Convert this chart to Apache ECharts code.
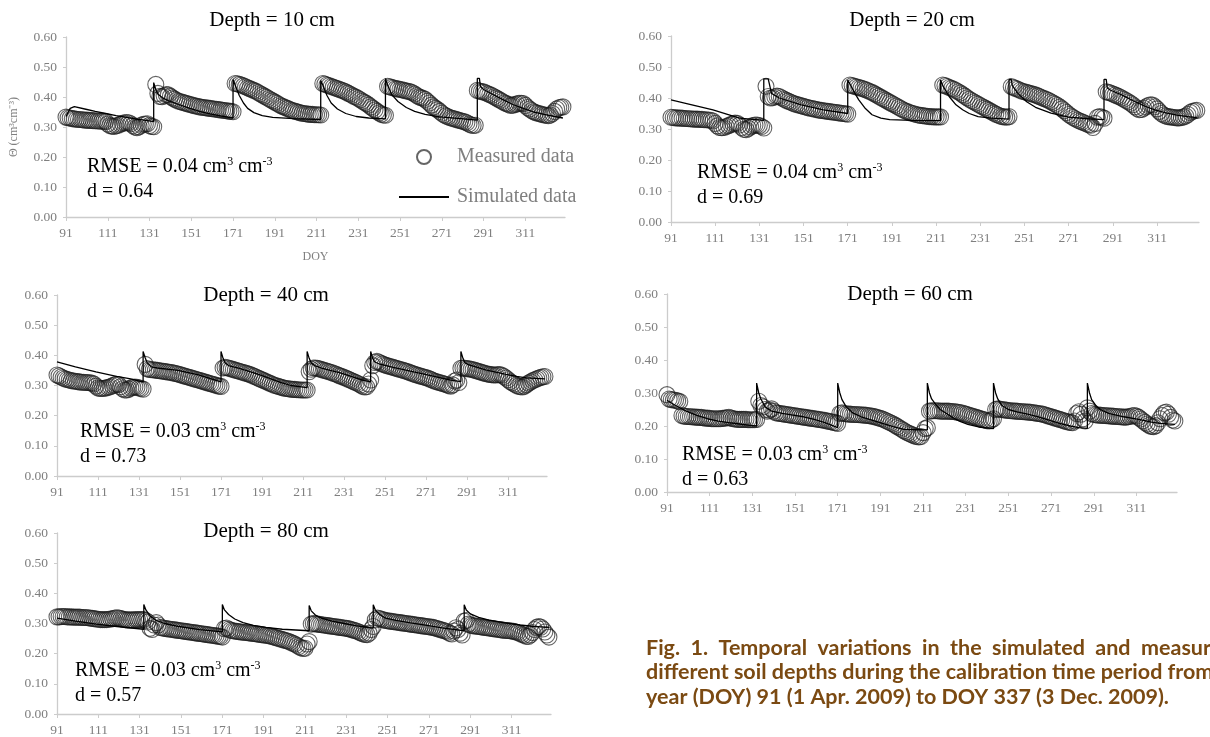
<!DOCTYPE html>
<html>
<head>
<meta charset="utf-8">
<script src="https://cdn.jsdelivr.net/npm/echarts@6/dist/echarts.min.js"></script>
<style>
html, body { margin: 0; padding: 0; background: #fff; }
#chart { width: 1210px; height: 737px; }
</style>
</head>
<body>
<div id="chart"></div>
<script>
// day of year of the first measured value, one value per day after it
var firstDay = 91;
var tickDays = [91, 111, 131, 151, 171, 191, 211, 231, 251, 271, 291, 311];
var titles = ["Depth = 10 cm", "Depth = 20 cm", "Depth = 40 cm", "Depth = 60 cm", "Depth = 80 cm"];
var rmse = ["0.04", "0.04", "0.03", "0.03", "0.03"];
var dIndex = ["0.64", "0.69", "0.73", "0.63", "0.57"];

// measured soil water content (cm3 cm-3), DOY 91..329
var m10 = [
  .333,.331,.330,.328,.327,.326,.325,.325,.324,.323,
  .323,.322,.322,.321,.321,.320,.320,.319,.319,.318,
  .310,.305,.303,.302,.304,.306,.309,.312,.314,.315,
  .314,.311,.305,.300,.298,.301,.306,.309,.310,.311,
  .305,.302,.301,.442,.412,.402,.401,.404,.408,.407,
  .402,.397,.393,.389,.386,.384,.382,.380,.378,.376,
  .374,.372,.370,.369,.367,.366,.365,.364,.363,.362,
  .361,.360,.359,.358,.357,.356,.355,.354,.353,.352,
  .351,.445,.444,.442,.440,.437,.434,.431,.428,.425,
  .422,.419,.415,.411,.407,.403,.399,.395,.391,.387,
  .383,.379,.375,.371,.368,.365,.362,.359,.356,.354,
  .352,.350,.348,.346,.345,.344,.343,.342,.342,.341,
  .341,.341,.340,.445,.443,.440,.438,.435,.433,.430,
  .428,.425,.423,.420,.417,.413,.410,.406,.402,.399,
  .395,.391,.386,.382,.378,.373,.367,.362,.357,.352,
  .347,.343,.340,.339,.436,.434,.432,.430,.428,.427,
  .425,.424,.422,.420,.419,.417,.414,.410,.405,.401,
  .398,.396,.392,.386,.380,.373,.367,.362,.358,.352,
  .346,.341,.337,.334,.331,.329,.327,.325,.323,.321,
  .319,.317,.314,.310,.307,.305,.306,.422,.420,.418,
  .417,.414,.411,.408,.405,.401,.397,.393,.389,.385,
  .381,.378,.375,.372,.373,.375,.377,.379,.379,.378,
  .372,.365,.360,.355,.351,.348,.346,.344,.342,.340,
  .339,.338,.340,.345,.352,.360,.364,.366,.367
];
var m20 = [
  .338,.337,.336,.336,.335,.335,.334,.334,.333,.333,
  .332,.332,.332,.331,.331,.330,.330,.329,.328,.326,
  .318,.310,.305,.304,.305,.308,.311,.314,.317,.319,
  .318,.313,.305,.299,.298,.302,.307,.311,.313,.313,
  .311,.308,.303,.438,.405,.400,.401,.404,.406,.405,
  .401,.397,.393,.390,.387,.384,.381,.379,.377,.375,
  .373,.371,.369,.367,.366,.364,.363,.361,.360,.359,
  .358,.357,.356,.355,.354,.353,.352,.351,.350,.349,
  .348,.442,.440,.438,.436,.434,.432,.430,.427,.424,
  .421,.418,.414,.410,.406,.402,.398,.394,.390,.386,
  .382,.378,.374,.370,.366,.362,.359,.356,.353,.351,
  .349,.347,.345,.344,.343,.342,.341,.340,.340,.339,
  .339,.339,.339,.442,.440,.437,.434,.431,.428,.424,
  .420,.416,.411,.406,.401,.396,.392,.388,.384,.380,
  .376,.372,.368,.364,.360,.356,.352,.348,.345,.342,
  .340,.339,.338,.340,.437,.434,.431,.428,.425,.422,
  .420,.418,.416,.414,.412,.410,.407,.404,.401,.398,
  .395,.392,.388,.384,.380,.376,.371,.365,.359,.353,
  .347,.342,.337,.333,.329,.326,.323,.320,.317,.314,
  .312,.305,.318,.338,.340,.338,.335,.420,.418,.416,
  .413,.410,.407,.404,.400,.396,.392,.388,.383,.378,
  .372,.366,.362,.363,.367,.372,.376,.378,.377,.372,
  .365,.357,.350,.345,.342,.340,.339,.338,.337,.336,
  .336,.337,.339,.342,.347,.353,.357,.359,.360
];
var m40 = [
  .335,.332,.328,.325,.322,.320,.318,.316,.315,.314,
  .313,.312,.311,.311,.310,.310,.309,.308,.305,.298,
  .292,.290,.290,.291,.292,.294,.296,.299,.302,.304,
  .303,.296,.289,.285,.285,.288,.292,.294,.295,.294,
  .292,.290,.288,.370,.356,.353,.352,.352,.351,.350,
  .349,.348,.347,.346,.345,.344,.343,.341,.340,.338,
  .336,.334,.332,.330,.328,.326,.324,.322,.320,.318,
  .316,.314,.312,.310,.308,.306,.304,.302,.300,.298,
  .297,.358,.360,.359,.357,.355,.353,.351,.349,.347,
  .345,.343,.341,.339,.337,.334,.331,.328,.325,.322,
  .319,.316,.313,.310,.307,.304,.301,.299,.297,.295,
  .293,.291,.290,.289,.288,.287,.287,.286,.286,.285,
  .285,.285,.285,.346,.354,.358,.358,.357,.355,.353,
  .351,.349,.347,.345,.343,.340,.338,.335,.332,.330,
  .327,.324,.321,.318,.315,.312,.309,.306,.302,.298,
  .295,.296,.305,.318,.366,.376,.380,.377,.374,.371,
  .368,.366,.364,.362,.360,.358,.356,.354,.352,.350,
  .348,.346,.343,.341,.338,.336,.334,.332,.330,.328,
  .326,.324,.321,.318,.315,.313,.311,.309,.307,.305,
  .303,.300,.298,.302,.315,.318,.310,.357,.358,.357,
  .356,.355,.354,.352,.350,.348,.346,.344,.342,.340,
  .338,.337,.336,.335,.335,.336,.336,.334,.330,.325,
  .319,.313,.309,.305,.301,.298,.296,.295,.298,.303,
  .308,.312,.316,.319,.322,.325,.327,.329,.330
];
var m60 = [
  .295,.282,.280,.279,.278,.276,.274,.232,.230,.229,
  .229,.228,.228,.227,.227,.226,.226,.225,.224,.224,
  .223,.222,.222,.222,.222,.222,.223,.224,.225,.226,
  .224,.222,.221,.220,.220,.220,.220,.220,.219,.219,
  .219,.219,.220,.275,.262,.258,.250,.245,.248,.252,
  .245,.240,.239,.238,.237,.236,.235,.234,.233,.232,
  .231,.230,.229,.228,.227,.226,.225,.224,.223,.222,
  .221,.220,.219,.218,.217,.215,.214,.213,.211,.210,
  .208,.238,.240,.238,.237,.236,.236,.235,.235,.235,
  .234,.234,.233,.233,.232,.231,.230,.229,.227,.225,
  .223,.221,.218,.215,.212,.209,.206,.202,.198,.194,
  .190,.186,.182,.179,.176,.173,.170,.168,.167,.168,
  .180,.192,.195,.245,.246,.246,.246,.246,.245,.245,
  .245,.245,.245,.244,.244,.243,.242,.241,.240,.238,
  .236,.234,.232,.230,.228,.226,.224,.222,.220,.218,
  .216,.215,.218,.222,.250,.252,.251,.250,.249,.248,
  .247,.246,.246,.245,.245,.244,.244,.243,.243,.242,
  .242,.241,.240,.239,.238,.237,.236,.234,.232,.230,
  .228,.226,.224,.222,.220,.218,.216,.214,.212,.211,
  .210,.215,.238,.243,.236,.222,.215,.255,.245,.238,
  .235,.234,.233,.233,.232,.232,.231,.231,.230,.230,
  .229,.229,.228,.228,.227,.227,.228,.229,.231,.232,
  .230,.226,.221,.216,.211,.206,.202,.199,.198,.201,
  .210,.222,.232,.240,.242,.236,.226,.218,.215
];
var m80 = [
  .322,.322,.323,.323,.323,.322,.322,.322,.321,.321,
  .321,.321,.320,.320,.320,.319,.318,.317,.316,.315,
  .314,.313,.313,.313,.313,.314,.315,.316,.318,.319,
  .318,.316,.314,.313,.312,.312,.312,.312,.313,.313,
  .313,.313,.313,.310,.305,.284,.280,.295,.303,.295,
  .287,.285,.284,.283,.282,.281,.280,.279,.278,.277,
  .276,.275,.274,.273,.272,.271,.270,.269,.268,.267,
  .266,.265,.264,.263,.262,.261,.260,.259,.258,.257,
  .255,.283,.285,.281,.278,.276,.275,.274,.273,.272,
  .271,.270,.270,.269,.268,.267,.266,.265,.264,.263,
  .262,.261,.260,.259,.257,.255,.253,.251,.249,.247,
  .245,.243,.241,.238,.235,.232,.228,.224,.220,.217,
  .218,.232,.240,.298,.300,.299,.298,.297,.296,.295,
  .294,.293,.292,.291,.290,.289,.288,.287,.286,.285,
  .284,.283,.281,.279,.277,.275,.272,.269,.266,.264,
  .263,.268,.280,.290,.312,.318,.316,.314,.312,.310,
  .309,.308,.307,.306,.305,.304,.303,.302,.301,.300,
  .299,.298,.297,.296,.295,.294,.293,.292,.291,.290,
  .289,.288,.287,.285,.283,.281,.279,.277,.275,.272,
  .268,.265,.275,.286,.280,.268,.262,.308,.310,.298,
  .295,.293,.292,.291,.290,.289,.288,.287,.286,.285,
  .284,.283,.282,.281,.280,.279,.278,.277,.277,.276,
  .275,.274,.272,.270,.267,.264,.261,.258,.257,.262,
  .270,.280,.287,.290,.288,.282,.272,.262,.255
];

// simulated values read at the turning points of the model line: [DOY, value]
var sim10 = [[91,.335],[93,.362],[95,.368],[100,.360],[105,.352],[110,.345],[115,.338],[120,.332],[125,.326],[130,.321],[133,.318],
  [133,.448],[134,.425],[135,.410],[137,.398],[140,.388],[145,.375],[150,.363],[155,.352],[160,.344],[165,.337],[171,.330],
  [171,.458],[172,.440],[174,.405],[176,.380],[178,.362],[181,.348],[185,.338],[190,.332],[200,.328],[213,.325],
  [213,.455],[214,.440],[216,.405],[218,.380],[221,.360],[225,.345],[230,.335],[236,.330],[244,.327],
  [244,.462],[245,.440],[247,.408],[250,.385],[254,.365],[258,.352],[263,.342],[270,.334],[280,.328],[288,.323],
  [288,.462],[289,.462],[289.5,.435],[291,.425],[295,.410],[300,.392],[305,.375],[310,.362],[315,.350],[320,.342],[325,.335],[329,.330]];
var sim20 = [[91,.394],[100,.379],[110,.362],[122,.335],[133,.328],
  [133,.462],[135,.462],[136.5,.415],[140,.400],[150,.378],[160,.362],[171,.350],
  [171,.458],[172,.445],[174,.418],[176,.394],[179,.366],[182,.346],[186,.335],[190,.330],[200,.328],[213,.327],
  [213,.458],[214,.440],[217,.404],[220,.378],[223,.362],[226,.350],[230,.340],[236,.335],[244,.332],
  [244,.460],[245,.460],[245.5,.440],[248,.415],[252,.388],[256,.370],[263,.351],[271,.338],[280,.333],[287,.330],
  [287,.460],[288,.460],[288.5,.432],[290,.425],[295,.410],[300,.392],[305,.375],[310,.362],[315,.352],[320,.345],[325,.340],[329,.337]];
var sim40 = [[91,.378],[100,.362],[110,.345],[120,.330],[127,.322],[133,.311],
  [133,.413],[134,.392],[135,.375],[137,.362],[140,.358],[150,.350],[160,.335],[171,.312],
  [171,.413],[172,.390],[173,.375],[175,.365],[180,.357],[190,.335],[200,.310],[205,.300],[213,.293],
  [213,.413],[214,.390],[215,.375],[217,.365],[220,.358],[230,.340],[240,.318],[244,.312],
  [244,.413],[245,.390],[246,.378],[248,.372],[255,.360],[265,.345],[275,.330],[283,.318],[288,.313],
  [288,.413],[289,.390],[290,.375],[292,.368],[300,.352],[310,.337],[315,.330],[320,.325],[329,.322]];
var sim60 = [[91,.278],[95,.262],[100,.245],[105,.232],[110,.222],[115,.215],[120,.210],[125,.206],[130,.202],[133,.200],
  [133,.330],[134,.300],[135,.282],[137,.258],[140,.245],[145,.238],[150,.233],[155,.228],[160,.220],[165,.210],[171,.195],
  [171,.330],[172,.300],[173,.280],[175,.258],[178,.240],[182,.228],[187,.218],[192,.208],[197,.198],[202,.190],[213,.188],
  [213,.330],[214,.300],[215,.282],[217,.265],[219,.250],[222,.238],[225,.225],[228,.215],[232,.205],[237,.197],[244,.192],
  [244,.330],[245,.300],[246,.282],[248,.262],[251,.250],[255,.243],[260,.236],[265,.228],[270,.218],[275,.208],[280,.200],[284,.195],[288,.193],
  [288,.330],[289,.300],[290,.280],[292,.262],[294,.250],[298,.238],[305,.228],[312,.220],[318,.212],[322,.208],[329,.205]];
var sim80 = [[91,.318],[100,.308],[110,.298],[120,.290],[133,.281],
  [133,.363],[134,.345],[136,.325],[139,.310],[143,.300],[150,.290],[160,.280],[171,.272],
  [171,.363],[172,.345],[174,.330],[177,.315],[181,.303],[186,.294],[192,.287],[200,.281],[213,.276],
  [213,.360],[214,.342],[216,.328],[219,.318],[224,.308],[230,.300],[236,.292],[244,.285],
  [244,.362],[245,.345],[247,.330],[250,.318],[255,.310],[262,.302],[270,.294],[278,.285],[288,.276],
  [288,.362],[289,.345],[291,.332],[295,.320],[300,.311],[307,.303],[315,.295],[322,.290],[329,.287]];

var measured = [m10, m20, m40, m60, m80];
var simulated = [sim10, sim20, sim40, sim60, sim80];

// plot boxes (px) and where the texts of each panel sit
var boxes = [
  { left: 66, top: 37, width: 499, height: 180 },
  { left: 671, top: 36, width: 528, height: 186 },
  { left: 57, top: 295, width: 490, height: 181 },
  { left: 667, top: 294, width: 510, height: 198 },
  { left: 57, top: 533, width: 494, height: 183 }
];
var titlePos = [[272, 20], [912, 20], [266, 295], [910, 294], [266, 531]];
var statPos = [[87, 167], [697, 173], [80, 432], [682, 455], [75, 671]];

var serif = "Liberation Serif";
var axisGray = "#cccccc";
var labelGray = "#7f7f7f";

var grid = [], xAxis = [], yAxis = [], series = [], graphic = [];

for (var i = 0; i < 5; i++) {
  grid.push(boxes[i]);
  xAxis.push({
    type: "value", gridIndex: i, min: 91, max: 330,
    axisLine: { onZero: false, lineStyle: { color: axisGray, width: 1.3 } },
    axisTick: { show: true, customValues: tickDays, length: 4, lineStyle: { color: axisGray } },
    axisLabel: { customValues: tickDays, color: labelGray, fontFamily: serif, fontSize: 13.5, margin: 9 },
    splitLine: { show: false },
    name: i === 0 ? "DOY" : "",
    nameLocation: "middle", nameGap: 34,
    nameTextStyle: { color: labelGray, fontFamily: serif, fontSize: 12 }
  });
  yAxis.push({
    type: "value", gridIndex: i, min: 0, max: 0.6, interval: 0.1,
    axisLine: { show: true, lineStyle: { color: axisGray, width: 1.3 } },
    axisTick: { show: true, length: 3, lineStyle: { color: axisGray } },
    axisLabel: { formatter: function (v) { return v.toFixed(2); }, color: labelGray, fontFamily: serif, fontSize: 13.5, margin: 9 },
    splitLine: { show: false },
    name: i === 0 ? "\u0398 (cm\u00b3cm\u207b\u00b3)" : "",
    nameLocation: "middle", nameGap: 46, nameRotate: 90,
    nameTextStyle: { color: labelGray, fontFamily: serif, fontSize: 12 }
  });
  series.push({
    type: "scatter", name: "Measured data", xAxisIndex: i, yAxisIndex: i,
    data: measured[i].map(function (v, k) { return [firstDay + k, v]; }),
    symbol: "circle", symbolSize: 16,
    itemStyle: { color: "rgba(255,255,255,0)", borderColor: "rgba(30,30,30,0.85)", borderWidth: 1.1 },
    silent: true, z: 2
  });
  series.push({
    type: "line", name: "Simulated data", xAxisIndex: i, yAxisIndex: i,
    data: simulated[i], symbol: "none", showSymbol: false,
    itemStyle: { color: "rgba(0,0,0,0)" },
    lineStyle: { color: "#000", width: 1.3 },
    silent: true, z: 3
  });

  graphic.push({
    type: "text", x: titlePos[i][0], y: titlePos[i][1],
    style: { text: titles[i], fontFamily: serif, fontSize: 21, fill: "#000",
      align: "center", textAlign: "center", verticalAlign: "middle", textVerticalAlign: "middle" }
  });
  graphic.push({
    type: "text", x: statPos[i][0], y: statPos[i][1],
    style: {
      text: "RMSE = " + rmse[i] + " cm{sup|3} cm{sup|-3}",
      fontFamily: serif, fontSize: 20, lineHeight: 22, fill: "#000",
      verticalAlign: "middle", textVerticalAlign: "middle",
      rich: { sup: { fontFamily: serif, fontSize: 12, lineHeight: 12, verticalAlign: "top", fill: "#000" } }
    }
  });
  graphic.push({
    type: "text", x: statPos[i][0], y: statPos[i][1] + 25,
    style: { text: "d = " + dIndex[i], fontFamily: serif, fontSize: 20, fill: "#000",
      verticalAlign: "middle", textVerticalAlign: "middle" }
  });
}

// figure caption; the first line is justified, so its words are spread over the line
var capWords = ["Fig.", "1.", "Temporal", "variations", "in", "the", "simulated", "and", "measur"];
var capLines = [
  "different soil depths during the calibration time period from",
  "year (DOY) 91 (1 Apr. 2009) to DOY 337 (3 Dec. 2009)."
];
var capLeft = 646, capRight = 1211;
var capFont = { fontFamily: "Lato", fontWeight: "bold", fontSize: 21.5, fill: "#7b4a12",
  verticalAlign: "middle", textVerticalAlign: "middle" };
var ctx = document.createElement("canvas").getContext("2d");
ctx.font = "bold 21.5px Lato";
var wordW = capWords.map(function (w) { return ctx.measureText(w).width; });
var gap = (capRight - capLeft - wordW.reduce(function (a, b) { return a + b; }, 0)) / (capWords.length - 1);
var cx = capLeft;
capWords.forEach(function (w, k) {
  graphic.push({ type: "text", x: cx, y: 648, style: Object.assign({ text: w }, capFont) });
  cx += wordW[k] + gap;
});
capLines.forEach(function (t, k) {
  graphic.push({ type: "text", x: capLeft, y: 672 + k * 25, style: Object.assign({ text: t }, capFont) });
});

var chart = echarts.init(document.getElementById("chart"));
chart.setOption({
  animation: false,
  backgroundColor: "#fff",
  grid: grid,
  xAxis: xAxis,
  yAxis: yAxis,
  legend: {
    left: 398, top: 147, orient: "vertical", padding: 0,
    itemWidth: 50, itemHeight: 14, itemGap: 20,
    selectedMode: false,
    data: [{ name: "Measured data", icon: "circle" }, { name: "Simulated data" }],
    textStyle: { fontFamily: serif, fontSize: 20, color: labelGray, padding: [0, 0, 0, 3] }
  },
  series: series,
  graphic: graphic
});
</script>
</body>
</html>
